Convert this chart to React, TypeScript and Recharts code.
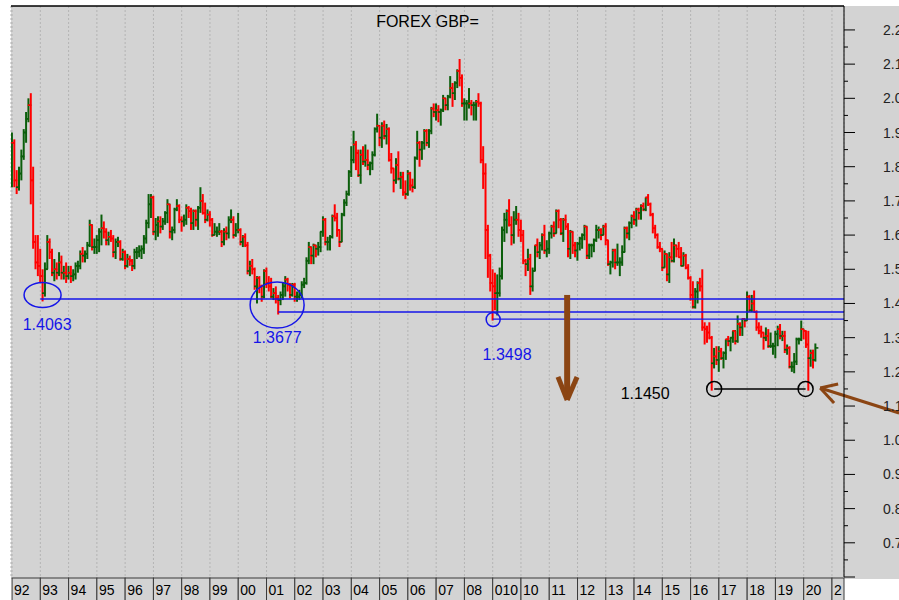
import React from "react";
import {
  ComposedChart,
  Bar,
  XAxis,
  YAxis,
  CartesianGrid,
  ReferenceLine,
  ReferenceDot,
} from "recharts";

// GBP/USD monthly bars, Jan 1992 .. Jun 2020 (open = previous close)
const firstOpen = 1.75;

const highs = [
  1.90, 1.88, 1.79, 1.80, 1.85, 1.91, 1.96, 2.00, 2.015, 1.80, 1.60, 1.60,
  1.56, 1.50, 1.52, 1.60, 1.59, 1.56, 1.53, 1.52, 1.55, 1.54, 1.51, 1.52,
  1.51, 1.51, 1.50, 1.52, 1.525, 1.555, 1.565, 1.555, 1.58, 1.645, 1.63, 1.59,
  1.60, 1.62, 1.66, 1.64, 1.62, 1.61, 1.615, 1.60, 1.59, 1.595, 1.585, 1.56,
  1.555, 1.545, 1.54, 1.53, 1.56, 1.565, 1.57, 1.57, 1.60, 1.645, 1.72, 1.72,
  1.715, 1.65, 1.655, 1.655, 1.65, 1.67, 1.705, 1.69, 1.625, 1.68, 1.705, 1.69,
  1.655, 1.66, 1.69, 1.685, 1.68, 1.675, 1.675, 1.685, 1.74, 1.72, 1.695, 1.675,
  1.67, 1.65, 1.635, 1.625, 1.635, 1.615, 1.62, 1.625, 1.655, 1.675, 1.655, 1.635,
  1.665, 1.62, 1.60, 1.605, 1.58, 1.525, 1.53, 1.505, 1.48, 1.48, 1.455, 1.50,
  1.505, 1.48, 1.475, 1.445, 1.45, 1.425, 1.435, 1.46, 1.48, 1.475, 1.46, 1.46,
  1.46, 1.435, 1.44, 1.465, 1.475, 1.535, 1.58, 1.565, 1.575, 1.57, 1.58, 1.61,
  1.655, 1.65, 1.595, 1.60, 1.66, 1.69, 1.665, 1.615, 1.665, 1.705, 1.73, 1.79,
  1.86, 1.905, 1.875, 1.85, 1.85, 1.86, 1.865, 1.85, 1.815, 1.845, 1.915, 1.955,
  1.92, 1.93, 1.935, 1.925, 1.915, 1.84, 1.795, 1.825, 1.845, 1.785, 1.785, 1.76,
  1.79, 1.785, 1.765, 1.83, 1.905, 1.875, 1.875, 1.91, 1.91, 1.91, 1.975, 1.985,
  1.985, 1.98, 1.97, 2.01, 2.00, 2.01, 2.065, 2.045, 2.05, 2.085, 2.115, 2.07,
  2.00, 1.995, 2.03, 1.995, 1.99, 1.995, 2.015, 1.99, 1.86, 1.81, 1.63, 1.545,
  1.50, 1.49, 1.485, 1.505, 1.625, 1.665, 1.675, 1.705, 1.655, 1.67, 1.685, 1.665,
  1.645, 1.615, 1.53, 1.56, 1.545, 1.505, 1.57, 1.59, 1.58, 1.605, 1.63, 1.585,
  1.61, 1.63, 1.64, 1.675, 1.675, 1.65, 1.65, 1.66, 1.635, 1.615, 1.61, 1.58,
  1.58, 1.595, 1.605, 1.63, 1.625, 1.575, 1.575, 1.59, 1.63, 1.625, 1.62, 1.63,
  1.635, 1.585, 1.525, 1.56, 1.56, 1.575, 1.535, 1.57, 1.625, 1.625, 1.64, 1.66,
  1.67, 1.68, 1.68, 1.69, 1.695, 1.71, 1.72, 1.695, 1.665, 1.63, 1.605, 1.58,
  1.56, 1.555, 1.545, 1.55, 1.58, 1.59, 1.57, 1.58, 1.565, 1.55, 1.545, 1.515,
  1.48, 1.465, 1.445, 1.465, 1.475, 1.50, 1.345, 1.335, 1.345, 1.305, 1.27, 1.275,
  1.275, 1.27, 1.26, 1.295, 1.305, 1.30, 1.32, 1.32, 1.365, 1.345, 1.355, 1.355,
  1.435, 1.425, 1.425, 1.438, 1.38, 1.345, 1.335, 1.315, 1.33, 1.325, 1.315, 1.285,
  1.32, 1.335, 1.34, 1.32, 1.32, 1.28, 1.275, 1.23, 1.255, 1.30, 1.30, 1.35,
  1.325, 1.32, 1.32, 1.265, 1.265, 1.283,
];

const lows = [
  1.74, 1.74, 1.72, 1.73, 1.76, 1.82, 1.87, 1.93, 1.69, 1.56, 1.50, 1.48,
  1.46, 1.406, 1.42, 1.50, 1.53, 1.48, 1.465, 1.47, 1.48, 1.47, 1.47, 1.46,
  1.47, 1.46, 1.465, 1.47, 1.49, 1.50, 1.52, 1.52, 1.53, 1.565, 1.555, 1.545,
  1.545, 1.55, 1.57, 1.59, 1.57, 1.57, 1.58, 1.535, 1.53, 1.565, 1.525, 1.525,
  1.50, 1.505, 1.51, 1.495, 1.50, 1.53, 1.535, 1.53, 1.545, 1.575, 1.62, 1.65,
  1.60, 1.585, 1.595, 1.605, 1.615, 1.63, 1.635, 1.59, 1.585, 1.605, 1.67, 1.635,
  1.61, 1.625, 1.63, 1.65, 1.615, 1.615, 1.625, 1.615, 1.665, 1.66, 1.635, 1.64,
  1.625, 1.595, 1.60, 1.595, 1.60, 1.565, 1.57, 1.585, 1.59, 1.635, 1.59, 1.595,
  1.605, 1.57, 1.565, 1.565, 1.485, 1.48, 1.485, 1.44, 1.40, 1.43, 1.405, 1.415,
  1.445, 1.435, 1.415, 1.41, 1.40, 1.3677, 1.395, 1.41, 1.42, 1.435, 1.415, 1.42,
  1.405, 1.405, 1.41, 1.415, 1.445, 1.455, 1.515, 1.515, 1.515, 1.535, 1.54, 1.55,
  1.595, 1.57, 1.555, 1.555, 1.59, 1.64, 1.595, 1.565, 1.58, 1.655, 1.685, 1.715,
  1.77, 1.81, 1.79, 1.77, 1.75, 1.805, 1.80, 1.79, 1.775, 1.79, 1.83, 1.90,
  1.86, 1.855, 1.88, 1.865, 1.815, 1.78, 1.725, 1.75, 1.76, 1.735, 1.715, 1.705,
  1.715, 1.73, 1.725, 1.735, 1.82, 1.80, 1.82, 1.85, 1.86, 1.855, 1.895, 1.945,
  1.935, 1.93, 1.92, 1.96, 1.965, 1.965, 2.00, 1.975, 1.995, 2.03, 2.035, 1.975,
  1.935, 1.935, 1.97, 1.95, 1.935, 1.935, 1.975, 1.81, 1.735, 1.53, 1.475, 1.435,
  1.35, 1.38, 1.365, 1.42, 1.47, 1.58, 1.605, 1.625, 1.57, 1.575, 1.63, 1.595,
  1.58, 1.515, 1.48, 1.495, 1.425, 1.435, 1.495, 1.535, 1.53, 1.555, 1.545, 1.535,
  1.545, 1.59, 1.595, 1.605, 1.62, 1.60, 1.58, 1.615, 1.535, 1.53, 1.545, 1.535,
  1.525, 1.555, 1.56, 1.585, 1.53, 1.53, 1.535, 1.55, 1.58, 1.59, 1.585, 1.60,
  1.57, 1.51, 1.485, 1.505, 1.50, 1.51, 1.48, 1.51, 1.55, 1.59, 1.585, 1.62,
  1.63, 1.625, 1.645, 1.645, 1.67, 1.67, 1.685, 1.655, 1.605, 1.59, 1.56, 1.55,
  1.495, 1.505, 1.465, 1.46, 1.52, 1.52, 1.535, 1.535, 1.51, 1.51, 1.50, 1.47,
  1.408, 1.385, 1.385, 1.40, 1.435, 1.32, 1.28, 1.285, 1.295, 1.145, 1.21, 1.22,
  1.20, 1.235, 1.21, 1.235, 1.275, 1.26, 1.285, 1.28, 1.285, 1.305, 1.305, 1.33,
  1.35, 1.375, 1.375, 1.375, 1.32, 1.31, 1.30, 1.265, 1.29, 1.27, 1.27, 1.25,
  1.24, 1.275, 1.295, 1.29, 1.255, 1.25, 1.21, 1.20, 1.196, 1.22, 1.28, 1.29,
  1.295, 1.27, 1.145, 1.215, 1.21, 1.23,
];

const closes = [
  1.87, 1.76, 1.74, 1.78, 1.83, 1.90, 1.94, 1.98, 1.76, 1.58, 1.52, 1.51,
  1.48, 1.43, 1.50, 1.58, 1.55, 1.49, 1.50, 1.49, 1.52, 1.49, 1.49, 1.48,
  1.49, 1.48, 1.485, 1.51, 1.51, 1.545, 1.54, 1.545, 1.57, 1.63, 1.565, 1.565,
  1.585, 1.61, 1.62, 1.61, 1.585, 1.595, 1.59, 1.55, 1.58, 1.58, 1.53, 1.55,
  1.51, 1.53, 1.525, 1.51, 1.55, 1.55, 1.555, 1.56, 1.59, 1.635, 1.69, 1.71,
  1.61, 1.63, 1.64, 1.625, 1.64, 1.665, 1.69, 1.61, 1.615, 1.675, 1.685, 1.645,
  1.64, 1.645, 1.68, 1.67, 1.635, 1.67, 1.645, 1.68, 1.70, 1.665, 1.645, 1.66,
  1.645, 1.60, 1.61, 1.61, 1.61, 1.58, 1.61, 1.605, 1.645, 1.645, 1.60, 1.615,
  1.615, 1.58, 1.595, 1.57, 1.495, 1.51, 1.50, 1.45, 1.475, 1.45, 1.42, 1.495,
  1.46, 1.45, 1.42, 1.43, 1.415, 1.41, 1.425, 1.45, 1.47, 1.455, 1.425, 1.455,
  1.42, 1.42, 1.425, 1.455, 1.46, 1.525, 1.565, 1.54, 1.57, 1.56, 1.565, 1.61,
  1.645, 1.58, 1.58, 1.595, 1.655, 1.65, 1.615, 1.58, 1.66, 1.695, 1.72, 1.785,
  1.82, 1.865, 1.84, 1.775, 1.835, 1.815, 1.82, 1.805, 1.81, 1.835, 1.91, 1.92,
  1.885, 1.92, 1.89, 1.91, 1.82, 1.795, 1.76, 1.805, 1.765, 1.77, 1.725, 1.72,
  1.78, 1.745, 1.74, 1.825, 1.87, 1.85, 1.87, 1.905, 1.87, 1.905, 1.97, 1.96,
  1.965, 1.96, 1.965, 2.00, 1.98, 2.005, 2.03, 2.015, 2.045, 2.08, 2.06, 1.985,
  1.985, 1.985, 1.985, 1.98, 1.98, 1.99, 1.985, 1.82, 1.78, 1.615, 1.54, 1.46,
  1.45, 1.43, 1.43, 1.48, 1.615, 1.645, 1.67, 1.63, 1.60, 1.645, 1.645, 1.615,
  1.60, 1.525, 1.515, 1.53, 1.45, 1.495, 1.57, 1.55, 1.57, 1.60, 1.555, 1.56,
  1.605, 1.625, 1.605, 1.67, 1.645, 1.605, 1.645, 1.625, 1.56, 1.61, 1.57, 1.555,
  1.575, 1.59, 1.60, 1.625, 1.54, 1.57, 1.57, 1.585, 1.615, 1.615, 1.60, 1.625,
  1.585, 1.515, 1.52, 1.555, 1.52, 1.52, 1.52, 1.55, 1.62, 1.605, 1.635, 1.655,
  1.645, 1.675, 1.665, 1.685, 1.675, 1.71, 1.69, 1.66, 1.62, 1.60, 1.565, 1.56,
  1.505, 1.545, 1.485, 1.535, 1.525, 1.57, 1.56, 1.535, 1.51, 1.54, 1.505, 1.475,
  1.425, 1.39, 1.435, 1.46, 1.45, 1.33, 1.325, 1.315, 1.30, 1.225, 1.245, 1.235,
  1.26, 1.24, 1.255, 1.295, 1.29, 1.30, 1.32, 1.29, 1.34, 1.33, 1.355, 1.35,
  1.42, 1.38, 1.40, 1.375, 1.33, 1.32, 1.315, 1.30, 1.305, 1.275, 1.275, 1.275,
  1.31, 1.325, 1.305, 1.305, 1.265, 1.27, 1.215, 1.215, 1.23, 1.295, 1.295, 1.325,
  1.32, 1.28, 1.24, 1.255, 1.235, 1.27,
];

// year boxes along the bottom (month index of each January)
const yearTicks = [
  0, 12, 24, 36, 48, 60, 72, 84, 96, 108, 120, 132, 144, 156, 168,
  180, 192, 204, 216, 228, 240, 252, 264, 276, 288, 300, 312, 324, 336, 348,
];
const yearLabels = [
  "92", "93", "94", "95", "96", "97", "98", "99", "00", "01", "02", "03", "04", "05", "06",
  "07", "08", "010", "10", "11", "12", "13", "14", "15", "16", "17", "18", "19", "20", "2",
];

const priceTicks = [
  0.6, 0.65, 0.7, 0.75, 0.8, 0.85, 0.9, 0.95, 1.0, 1.05, 1.1, 1.15, 1.2, 1.25,
  1.3, 1.35, 1.4, 1.45, 1.5, 1.55, 1.6, 1.65, 1.7, 1.75, 1.8, 1.85, 1.9, 1.95,
  2.0, 2.05, 2.1, 2.15, 2.2,
];

// support lines drawn on the chart, with the month they start from
const supportLevels = [1.413, 1.375, 1.354];
const supportStart = [12, 113, 204];
const supportLabels = ["1.4063", "1.3677", "1.3498"];
const lowLevel = 1.15;
const lowLabel = "1.1450";

const X_DOMAIN: [number, number] = [-0.45, 353.1];
const Y_DOMAIN: [number, number] = [0.6, 2.27];
const PLOT_RIGHT = 844;
const MONTH_PX = 833 / (X_DOMAIN[1] - X_DOMAIN[0]);
const FONT = "Arial, 'Liberation Sans', sans-serif";
const BLUE = "#1515e8";
const BROWN = "#8b4513";

const data = closes.map((close, i) => {
  const open = i === 0 ? firstOpen : closes[i - 1];
  return { m: i, open, high: highs[i], low: lows[i], close, range: [lows[i], highs[i]] };
});

function OhlcBar(props: any) {
  const { x, y, width, height, payload } = props;
  if (x == null || y == null || !payload) return null;
  const cx = x + width / 2;
  const top = Math.min(y, y + height);
  const bottom = Math.max(y, y + height);
  const { open, high, low, close } = payload;
  const k = high === low ? 0 : (bottom - top) / (high - low);
  const yo = top + (high - open) * k;
  const yc = top + (high - close) * k;
  const color = close >= open ? "#0b5e0b" : "#ff0000";
  return (
    <g stroke={color}>
      <line x1={cx} x2={cx} y1={top} y2={bottom} strokeWidth={2} />
      <line x1={cx - 3} x2={cx} y1={yo} y2={yo} strokeWidth={1.6} />
      <line x1={cx} x2={cx + 3} y1={yc} y2={yc} strokeWidth={1.6} />
    </g>
  );
}

function YearTick(props: any) {
  const { x, y, payload } = props;
  const idx = yearTicks.indexOf(payload.value);
  const w = Math.max(0, Math.min(MONTH_PX * 12, PLOT_RIGHT - x));
  return (
    <g>
      <rect x={x} y={y + 1} width={w} height={24} fill="#d3d3d3" stroke="#3a3a3a" strokeWidth={1} />
      <text x={x + 2} y={y + 18} fontSize={14} fontFamily={FONT} fill="#000">
        {yearLabels[idx]}
      </text>
    </g>
  );
}

function PriceTick(props: any) {
  const { x, y, payload } = props;
  const v = payload.value;
  const major = Math.abs(v * 10 - Math.round(v * 10)) < 1e-6;
  return (
    <g>
      <line x1={x} x2={x + (major ? 11 : 4)} y1={y} y2={y} stroke="#000" strokeWidth={1} />
      {major && v >= 0.7 && (
        <text x={x + 39} y={y + 5} fontSize={14} fontFamily={FONT} fill="#222">
          {v.toFixed(1)}
        </text>
      )}
    </g>
  );
}

const ring = (rx: number, ry: number, color: string) => (p: any) =>
  <ellipse cx={p.cx} cy={p.cy} rx={rx} ry={ry} fill="none" stroke={color} strokeWidth={1.5} />;

const note = (text: string, color: string) => (p: any) =>
  (
    <text x={p.cx} y={p.cy + 6} textAnchor="middle" fontSize={16} fontFamily={FONT} fill={color}>
      {text}
    </text>
  );

export default function App() {
  return (
    <div style={{ position: "absolute", left: 0, top: 0, width: 899, height: 600, background: "#fff" }}>
      <div style={{ position: "absolute", left: 11, top: 6, width: 888, height: 573, background: "#d3d3d3" }} />
      <div
        style={{
          position: "absolute",
          left: 11,
          top: 13,
          width: 833,
          textAlign: "center",
          fontFamily: FONT,
          fontSize: 16,
          color: "#000",
          zIndex: 2,
        }}
      >
        FOREX GBP=
      </div>
      <div style={{ position: "absolute", left: 0, top: 0 }}>
        <ComposedChart width={899} height={600} data={data} margin={{ top: 6, right: 0, bottom: 1, left: 11 }}>
          <CartesianGrid horizontal={false} stroke="#b4b4b4" strokeDasharray="2 2" />
          <XAxis
            dataKey="m"
            type="number"
            domain={X_DOMAIN}
            allowDataOverflow
            ticks={yearTicks}
            interval={0}
            height={22}
            axisLine={false}
            tickLine={false}
            tickSize={0}
            tickMargin={0}
            tick={<YearTick />}
          />
          <YAxis
            orientation="right"
            type="number"
            domain={Y_DOMAIN}
            allowDataOverflow
            ticks={priceTicks}
            interval={0}
            width={55}
            axisLine={{ stroke: "#000" }}
            tickLine={false}
            tickSize={0}
            tickMargin={0}
            tick={<PriceTick />}
          />
          <ReferenceLine y={Y_DOMAIN[1]} stroke="#000" strokeWidth={1.5} />
          <Bar
            dataKey="range"
            barSize={3}
            isAnimationActive={false}
            shape={(p: any) => <OhlcBar {...p} />}
          />

          {supportLevels.map((lvl, i) => (
            <ReferenceLine
              key={"s" + i}
              segment={[{ x: supportStart[i], y: lvl }, { x: X_DOMAIN[1], y: lvl }]}
              stroke={BLUE}
              strokeWidth={1.3}
            />
          ))}
          <ReferenceDot x={12.95} y={1.4249} r={1} shape={ring(18.5, 12.5, BLUE)} />
          <ReferenceDot x={112.5} y={1.3956} r={1} shape={ring(27, 23, BLUE)} />
          <ReferenceDot x={204.2} y={1.3532} r={1} shape={ring(7, 7, BLUE)} />
          <ReferenceDot x={14.9} y={1.34} r={1} shape={note(supportLabels[0], BLUE)} />
          <ReferenceDot x={112.5} y={1.302} r={1} shape={note(supportLabels[1], BLUE)} />
          <ReferenceDot x={210.1} y={1.2524} r={1} shape={note(supportLabels[2], BLUE)} />

          <ReferenceLine segment={[{ x: 298.0, y: lowLevel }, { x: 336.8, y: lowLevel }]} stroke="#000" strokeWidth={1.5} />
          <ReferenceDot x={298.0} y={lowLevel} r={1} shape={ring(7.5, 7.5, "#000")} />
          <ReferenceDot x={336.8} y={lowLevel} r={1} shape={ring(7.5, 7.5, "#000")} />
          <ReferenceDot x={268.7} y={1.1382} r={1} shape={note(lowLabel, "#000")} />

          {/* brown arrow pointing down */}
          <ReferenceLine segment={[{ x: 235.6, y: 1.4249 }, { x: 235.6, y: 1.125 }]} stroke={BROWN} strokeWidth={6} />
          <ReferenceLine segment={[{ x: 231.7, y: 1.1851 }, { x: 235.6, y: 1.1178 }]} stroke={BROWN} strokeWidth={5} />
          <ReferenceLine segment={[{ x: 239.8, y: 1.1851 }, { x: 235.6, y: 1.1178 }]} stroke={BROWN} strokeWidth={5} />

          {/* brown arrow from the right edge */}
          <ReferenceLine
            ifOverflow="visible"
            segment={[{ x: 376.5, y: 1.0797 }, { x: 343.0, y: 1.1529 }]}
            stroke={BROWN}
            strokeWidth={3}
          />
          <ReferenceLine segment={[{ x: 343.0, y: 1.1529 }, { x: 350.6, y: 1.1646 }]} ifOverflow="visible" stroke={BROWN} strokeWidth={3} />
          <ReferenceLine segment={[{ x: 343.0, y: 1.1529 }, { x: 348.9, y: 1.109 }]} ifOverflow="visible" stroke={BROWN} strokeWidth={3} />
        </ComposedChart>
      </div>
    </div>
  );
}
